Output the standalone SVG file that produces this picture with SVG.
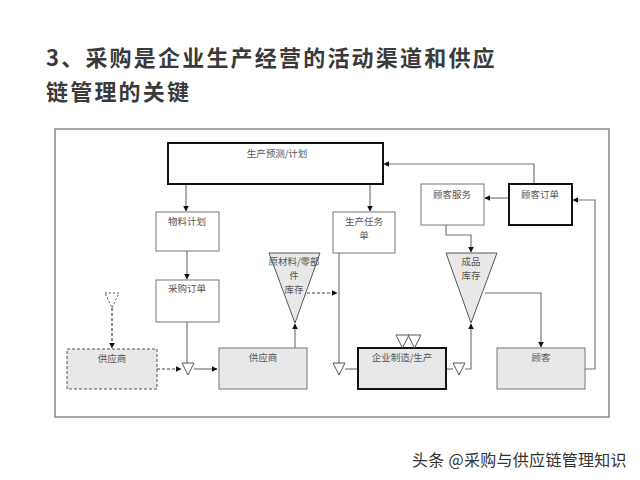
<svg xmlns="http://www.w3.org/2000/svg" width="640" height="480" viewBox="0 0 640 480">
<defs>
<marker id="ah" viewBox="0 0 10 10" refX="9" refY="5" markerWidth="5" markerHeight="5" orient="auto">
<path d="M0,0 L10,5 L0,10 z" fill="#111"/>
</marker>
<style>
.t{font-family:"Noto Sans CJK SC","Liberation Serif",serif;font-size:9.5px;fill:#555;text-anchor:middle}
.title{font-family:"Noto Sans CJK SC",sans-serif;font-size:22px;font-weight:bold;letter-spacing:2.2px;fill:#3a3a3a}
.box{fill:#fff;stroke:#777;stroke-width:1}
.gbox{fill:#e8e8e8;stroke:#777;stroke-width:1}
.bold{stroke:#111;stroke-width:2}
.c{fill:none;stroke:#777;stroke-width:1.2}
.d{fill:none;stroke:#444;stroke-width:1.2;stroke-dasharray:3,2}
.tri{fill:#e8e8e8;stroke:#555;stroke-width:1}
.stri{fill:#fff;stroke:#555;stroke-width:1}
</style>
</defs>
<rect width="640" height="480" fill="#fff"/>
<text class="title" x="46" y="66">3、采购是企业生产经营的活动渠道和供应</text>
<text class="title" x="46" y="100">链管理的关键</text>
<rect x="55" y="129" width="554" height="288" fill="none" stroke="#888" stroke-width="1.5"/>

<g id="connectors">
<path class="c" d="M186,184 V211" marker-end="url(#ah)"/>
<path class="c" d="M370,184 V211" marker-end="url(#ah)"/>
<path class="c" d="M187,251 V279" marker-end="url(#ah)"/>
<path class="c" d="M187,322 V363"/>
<path class="c" d="M194,369 H217" marker-end="url(#ah)"/>
<path class="d" d="M157,369 H181" marker-end="url(#ah)"/>
<path class="d" d="M112,308 V348" marker-end="url(#ah)"/>
<path class="c" d="M295,348 V324" marker-end="url(#ah)"/>
<path class="d" d="M307,293 H337" marker-end="url(#ah)"/>
<path class="c" d="M339,253 V363"/>
<path class="c" d="M345,369 H358"/>
<path class="c" d="M446,369 H453"/>
<path class="c" d="M465,369 H471 V324" marker-end="url(#ah)"/>
<path class="c" d="M485,293 H541 V347" marker-end="url(#ah)"/>
<path class="c" d="M585,369 H595 V200 H573" marker-end="url(#ah)"/>
<path class="c" d="M534,184 V164 H384" marker-end="url(#ah)"/>
<path class="c" d="M509,198 H485" marker-end="url(#ah)"/>
<path class="c" d="M446,225 V235 H471 V252" marker-end="url(#ah)"/>
</g>

<g id="plan">
<rect class="box bold" x="168" y="143" width="215" height="41"/>
<text class="t" x="277" y="157">生产预测/计划</text>
</g>
<g id="material">
<rect class="box" x="156" y="212" width="63" height="39"/>
<text class="t" x="187" y="225">物料计划</text>
</g>
<g id="po">
<rect class="box" x="156" y="280" width="63" height="42"/>
<text class="t" x="187" y="292">采购订单</text>
</g>
<g id="task">
<rect class="box" x="333" y="212" width="62" height="41"/>
<text class="t" x="364" y="225">生产任务</text>
<text class="t" x="364" y="239">单</text>
</g>
<g id="service">
<rect class="box" x="421" y="184" width="63" height="41"/>
<text class="t" x="452" y="198">顾客服务</text>
</g>
<g id="order">
<rect class="box bold" x="509" y="184" width="63" height="41"/>
<text class="t" x="540" y="198">顾客订单</text>
</g>
<g id="supplier2">
<rect x="67" y="349" width="90" height="40" fill="#e8e8e8" stroke="#555" stroke-width="1" stroke-dasharray="3,2"/>
<text class="t" x="112" y="362">供应商</text>
</g>
<g id="tri-dashed">
<polygon points="105,293 119,293 112,308" fill="#fff" stroke="#555" stroke-width="1" stroke-dasharray="2,2"/>
</g>
<g id="tri1">
<polygon class="stri" points="182,363 194,363 188,375"/>
</g>
<g id="supplier">
<rect class="gbox" x="219" y="348" width="88" height="41"/>
<text class="t" x="263" y="361">供应商</text>
</g>
<g id="raw">
<polygon class="tri" points="269,253 320,253 295,323"/>
<text class="t" x="294" y="265">原材料/零部</text>
<text class="t" x="294" y="279">件</text>
<text class="t" x="294" y="293">库存</text>
</g>
<g id="tri2">
<polygon class="stri" points="333,363 345,363 339,375"/>
</g>
<g id="mfg">
<rect class="gbox bold" x="358" y="348" width="88" height="41"/>
<text class="t" x="402" y="361">企业制造/生产</text>
<polygon class="stri" points="396,335 409,335 402.5,348"/>
<polygon class="stri" points="408,335 421,335 414.5,348"/>
</g>
<g id="tri3">
<polygon class="stri" points="453,363 465,363 459,375"/>
</g>
<g id="fg">
<polygon class="tri" points="446,253 497,253 471,323"/>
<text class="t" x="471" y="265">成品</text>
<text class="t" x="471" y="279">库存</text>
</g>
<g id="customer">
<rect class="gbox" x="497" y="348" width="88" height="41"/>
<text class="t" x="541" y="361">顾客</text>
</g>
<text x="412" y="466" font-family="Noto Sans CJK SC, sans-serif" font-size="16" letter-spacing="0.3" fill="#333">头条 @采购与供应链管理知识</text>
</svg>
